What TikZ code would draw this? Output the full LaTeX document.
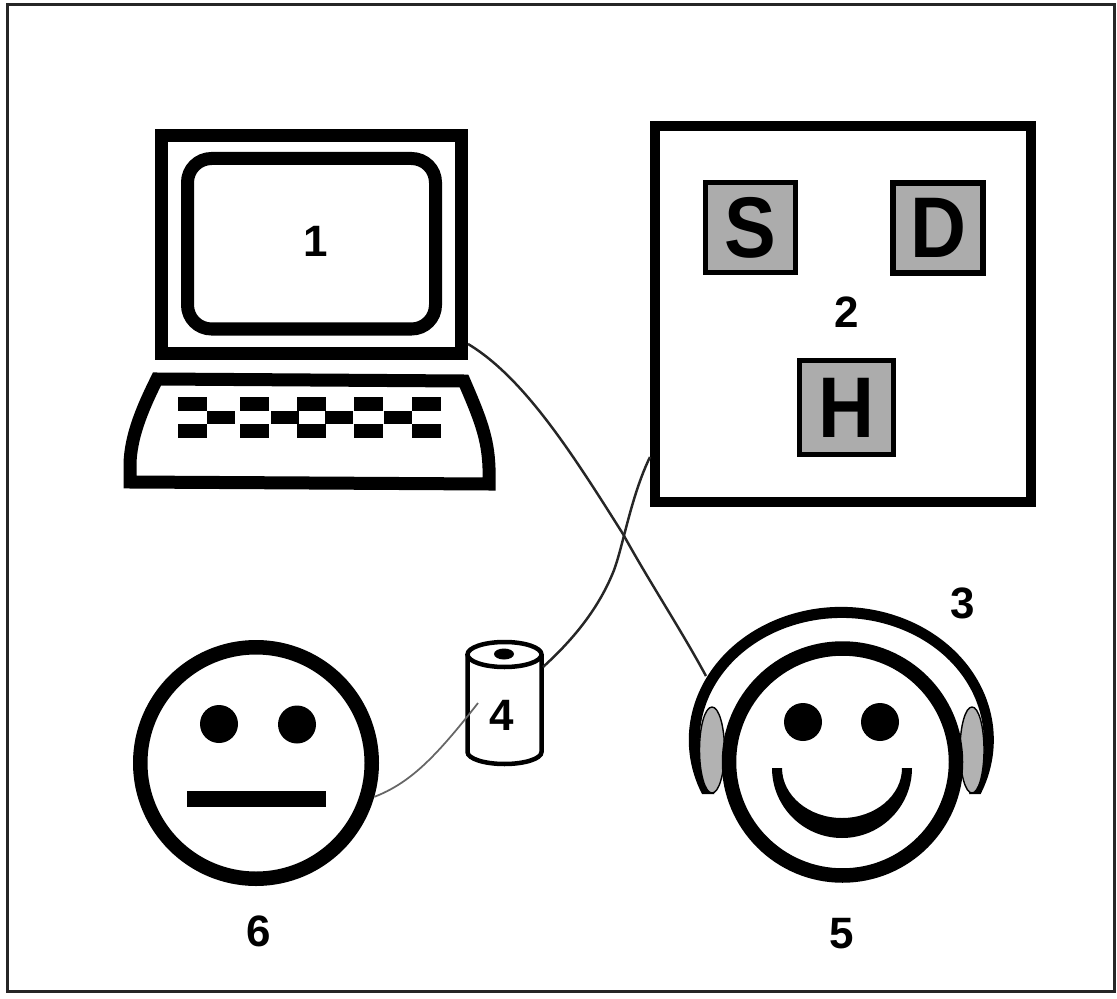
\documentclass[tikz,border=0pt]{standalone}
\usepackage{fontspec}
\setmainfont{Liberation Sans}
\usetikzlibrary{shapes.geometric, positioning}

\begin{document}
\begin{tikzpicture}[font=\fontsize{12.5}{15}\selectfont\bfseries,
    num/.style={inner sep=0pt},
    tile/.style={draw, line width=0.055cm, fill=gray!65, minimum size=0.9cm, inner sep=0pt, font=\fontsize{24.5}{28}\selectfont\bfseries},
    face/.style={draw, circle, line width=0.145cm, inner sep=0pt},
    eye/.style={fill, circle, minimum size=0.38cm, inner sep=0pt},
    pad/.style={draw, fill=gray!60, line width=0.4pt},
    wire/.style={line width=0.7pt, black!85}
]
    \useasboundingbox (0,0) rectangle (11.17,9.98);
    \draw[line width=0.03cm, black!85] (0.07,0.07) rectangle (11.14,9.93);

    % computer
    \node[draw, line width=0.13cm, minimum width=3.00cm, minimum height=2.18cm] (mon) at (3.115,7.535) {};
    \draw[line width=0.13cm, rounded corners=0.24cm] (1.875,6.69) rectangle (4.355,8.395);
    \node[num] (n1) at (3.16,7.57) {1};
    \draw[line width=0.13cm] (1.30,5.16) -- (1.30,5.35) .. controls (1.31,5.60) and (1.40,5.85) .. (1.57,6.19)
        -- (4.64,6.17) .. controls (4.80,5.80) and (4.88,5.60) .. (4.89,5.30) -- (4.89,5.14) -- cycle;
    \foreach \kx in {1.78,2.40,2.97,3.54,4.12} {
        \fill (\kx,5.87) rectangle ++(0.29,0.14);
        \fill (\kx,5.60) rectangle ++(0.29,0.14);
    }
    \foreach \kx in {2.07,2.71,3.25,3.84} {
        \fill (\kx,5.74) rectangle ++(0.28,0.13);
    }

    % panel
    \node[draw, line width=0.1cm, minimum size=3.76cm] (panel) at (8.43,6.84) {};
    \node[tile] (sk) at (7.505,7.705) {\scalebox{0.9}[1]{S}};
    \node[tile] (dk) at (9.38,7.70) {\scalebox{0.9}[1]{D}};
    \node[tile, minimum size=0.94cm] (hk) at (8.465,5.905) {\scalebox{0.9}[1]{H}};
    \node[num] (n2) at (8.47,6.86) {2};

    % headphones
    \fill (7.02,2.04) arc[start angle=204, end angle=-24, x radius=1.525, y radius=1.33]
        -- (9.69,2.04) arc[start angle=-26.3, end angle=206.3, x radius=1.42, y radius=1.22] -- cycle;
    \draw[pad] (7.12,2.48) ellipse[x radius=0.125, y radius=0.43];
    \draw[pad] (9.72,2.48) ellipse[x radius=0.12, y radius=0.43];
    \node[num] (n3) at (9.63,3.95) {3};

    % happy face
    \node[face, minimum size=2.27cm] (happy) at (8.425,2.36) {};
    \node[eye] (el) at (8.03,2.76) {};
    \node[eye] (er) at (8.80,2.76) {};
    \fill (7.72,2.30) arc[start angle=180, end angle=360, radius=0.70]
        -- (9.02,2.30) arc[start angle=360, end angle=180, x radius=0.60, y radius=0.50] -- cycle;
    \node[num] (n5) at (8.42,0.64) {5};

    % neutral face
    \node[face, minimum size=2.315cm] (plain) at (2.56,2.35) {};
    \node[eye] (pl) at (2.19,2.74) {};
    \node[eye] (pr) at (2.97,2.735) {};
    \node[fill, minimum width=1.39cm, minimum height=0.16cm, inner sep=0pt] (lip) at (2.565,1.99) {};
    \node[num] (n6) at (2.59,0.67) {6};

    % can
    \draw[line width=0.045cm] (4.675,3.435) -- (4.675,2.46) arc[start angle=180, end angle=360, x radius=0.37, y radius=0.12] -- (5.415,3.435);
    \draw[line width=0.045cm] (5.045,3.435) ellipse[x radius=0.37, y radius=0.125];
    \node[fill, ellipse, minimum width=0.2cm, minimum height=0.11cm, inner sep=0pt] (hub) at (5.04,3.44) {};
    \node[num] (n4) at (5.02,2.83) {4};

    % wires
    \coordinate (monjack) at (4.68,6.54);
    \coordinate (bandjack) at (7.06,3.22);
    \coordinate (panjack) at (6.50,5.41);
    \coordinate (canup) at (5.43,3.31);
    \coordinate (canlo) at (4.78,2.95);
    \draw[wire] (monjack) .. controls (5.25,6.20) and (5.75,5.40) .. (6.23,4.64) .. controls (6.50,4.15) and (6.80,3.70) .. (bandjack);
    \draw[wire] (panjack) .. controls (6.30,5.00) and (6.22,4.45) .. (6.12,4.23) .. controls (5.98,3.90) and (5.75,3.60) .. (canup);
    \draw[wire, line width=0.5pt, black!60] (plain.-16) .. controls (4.10,2.15) and (4.35,2.40) .. (canlo);
\end{tikzpicture}
\end{document}
